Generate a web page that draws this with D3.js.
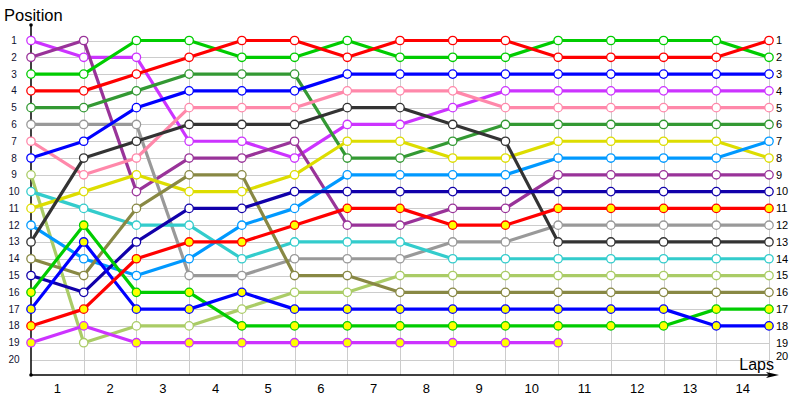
<!DOCTYPE html>
<html>
<head>
<meta charset="utf-8">
<script src="https://cdn.jsdelivr.net/npm/d3@7"></script>
<style>
  html, body { margin: 0; padding: 0; background: #fff; }
  svg { display: block; }
</style>
</head>
<body>
<svg width="800" height="400"></svg>
<script>
// lap labels sit between the sample columns, position labels 1..20
const lapLabels = ["1", "2", "3", "4", "5", "6", "7", "8", "9", "10", "11", "12", "13", "14"];
const positionLabels = d3.range(1, 21);

// position of each driver at the 15 sample columns
const magenta1 = [1, 2, 2, 7, 7, 8, 6, 6, 5, 4, 4, 4, 4, 4, 4];
const purple = [2, 1, 10, 8, 8, 7, 12, 12, 11, 11, 9, 9, 9, 9, 9];
const lime1 = [3, 3, 1, 1, 2, 2, 1, 2, 2, 2, 1, 1, 1, 1, 2];
const red1 = [4, 4, 3, 2, 1, 1, 2, 1, 1, 1, 2, 2, 2, 2, 1];
const forest = [5, 5, 4, 3, 3, 3, 8, 8, 7, 6, 6, 6, 6, 6, 6];
const grey = [6, 6, 6, 15, 15, 14, 14, 14, 13, 13, 12, 12, 12, 12, 12];
const pink = [7, 9, 8, 5, 5, 5, 4, 4, 4, 5, 5, 5, 5, 5, 5];
const blue1 = [8, 7, 5, 4, 4, 4, 3, 3, 3, 3, 3, 3, 3, 3, 3];
const paleGreen = [9, 19, 18, 18, 17, 16, 16, 15, 15, 15, 15, 15, 15, 15, 15];
const cyan = [10, 11, 12, 12, 14, 13, 13, 13, 14, 14, 14, 14, 14, 14, 14];
const yellow = [11, 10, 9, 10, 10, 9, 7, 7, 8, 8, 7, 7, 7, 7, 8];
const skyBlue = [12, 14, 15, 14, 12, 11, 9, 9, 9, 9, 8, 8, 8, 8, 7];
const charcoal = [13, 8, 7, 6, 6, 6, 5, 5, 6, 7, 13, 13, 13, 13, 13];
const olive = [14, 15, 11, 9, 9, 15, 15, 16, 16, 16, 16, 16, 16, 16, 16];
const navy = [15, 16, 13, 11, 11, 10, 10, 10, 10, 10, 10, 10, 10, 10, 10];
const lime2 = [16, 12, 16, 16, 18, 18, 18, 18, 18, 18, 18, 18, 18, 17, 17];
const blue2 = [17, 13, 17, 17, 16, 17, 17, 17, 17, 17, 17, 17, 17, 18, 18];
const red2 = [18, 17, 14, 13, 13, 12, 11, 11, 12, 12, 11, 11, 11, 11, 11];
const magenta2 = [19, 18, 19, 19, 19, 19, 19, 19, 19, 19, 19, null, null, null, null];

const seriesValues = [magenta1, purple, lime1, red1, forest, grey, pink, blue1, paleGreen, cyan,
  yellow, skyBlue, charcoal, olive, navy, lime2, blue2, red2, magenta2];
const seriesColors = ["#cc33ff", "#993399", "#00cc00", "#ff0000", "#339933", "#999999", "#ff88aa",
  "#0000ff", "#aacc66", "#33cccc", "#dddd00", "#0099ff", "#333333", "#888844", "#1100aa",
  "#00cc00", "#0000ff", "#ff0000", "#cc33ff"];
// second car of a team gets filled markers
const secondCar = [false, false, false, false, false, false, false, false, false, false,
  false, false, false, false, false, true, true, true, true];

const svg = d3.select("svg")
    .attr("font-family", "'Liberation Sans', Arial, sans-serif");

const x = d3.scaleLinear().domain([0, 14]).range([31, 769]);
const y = d3.scaleLinear().domain([1, 20]).range([40.5, 359.5]);
const axisY = 375;

// grid
const grid = svg.append("g").attr("stroke", "#cccccc").attr("stroke-width", 1);
grid.selectAll("line.h")
  .data(positionLabels)
  .join("line")
    .attr("class", "h")
    .attr("x1", x(0)).attr("x2", x(14))
    .attr("y1", d => Math.round(y(d)) + 0.5).attr("y2", d => Math.round(y(d)) + 0.5);
grid.selectAll("line.v")
  .data(d3.range(1, 15))
  .join("line")
    .attr("class", "v")
    .attr("x1", d => Math.round(x(d)) + 0.5).attr("x2", d => Math.round(x(d)) + 0.5)
    .attr("y1", y(1)).attr("y2", axisY);

// axes
svg.append("line")
    .attr("x1", 31).attr("x2", 31).attr("y1", 25).attr("y2", axisY)
    .attr("stroke", "#000").attr("stroke-width", 1.5);
svg.append("line")
    .attr("x1", 31).attr("x2", 772).attr("y1", axisY).attr("y2", axisY)
    .attr("stroke", "#000").attr("stroke-width", 1.5);
svg.append("path")
    .attr("d", `M779,${axisY} L766,${axisY - 3} L769,${axisY} L766,${axisY + 3} Z`)
    .attr("fill", "#000");
svg.append("circle").attr("cx", 31).attr("cy", 25).attr("r", 1.8).attr("fill", "#000");
svg.append("circle").attr("cx", 31).attr("cy", axisY).attr("r", 1.8).attr("fill", "#000");

// tick labels
svg.append("g")
    .attr("font-size", 10).attr("fill", "#101030").attr("text-anchor", "middle")
  .selectAll("text")
  .data(positionLabels)
  .join("text")
    .attr("x", 14).attr("y", d => y(d)).attr("dy", "0.35em")
    .text(d => d);
svg.append("g")
    .attr("font-size", 11).attr("fill", "#000").attr("text-anchor", "start")
  .selectAll("text")
  .data(positionLabels)
  .join("text")
    .attr("x", 776).attr("y", d => d === 20 ? y(d) - 3 : y(d)).attr("dy", "0.35em")
    .text(d => d);
svg.append("g")
    .attr("font-size", 13).attr("fill", "#000").attr("text-anchor", "middle")
  .selectAll("text")
  .data(lapLabels)
  .join("text")
    .attr("x", (d, i) => x(i + 0.5)).attr("y", 393)
    .text(d => d);

svg.append("text").attr("x", 4).attr("y", 21).attr("font-size", 16.5).attr("fill", "#000")
    .text("Position");
svg.append("text").attr("x", 774).attr("y", 370).attr("font-size", 16)
    .attr("text-anchor", "end").attr("fill", "#000")
    .text("Laps");

// series
const series = seriesValues.map((values, i) => ({
  values: values.map((v, j) => ({ lap: j, pos: v })),
  color: seriesColors[i],
  filled: secondCar[i]
}));

const line = d3.line()
    .defined(d => d.pos != null)
    .x(d => x(d.lap))
    .y(d => y(d.pos));

svg.append("g")
    .attr("fill", "none")
    .attr("stroke-width", 3.2)
    .attr("stroke-linejoin", "round")
  .selectAll("path")
  .data(series)
  .join("path")
    .attr("stroke", d => d.color)
    .attr("d", d => line(d.values));

svg.append("g")
  .selectAll("g")
  .data(series)
  .join("g")
    .attr("stroke", d => d.color)
    .attr("fill", d => d.filled ? "#ffff00" : "#ffffff")
    .attr("stroke-width", 1.3)
  .selectAll("circle")
  .data(d => d.values.filter(p => p.pos != null))
  .join("circle")
    .attr("cx", d => x(d.lap))
    .attr("cy", d => y(d.pos))
    .attr("r", 4.2);
</script>
</body>
</html>
